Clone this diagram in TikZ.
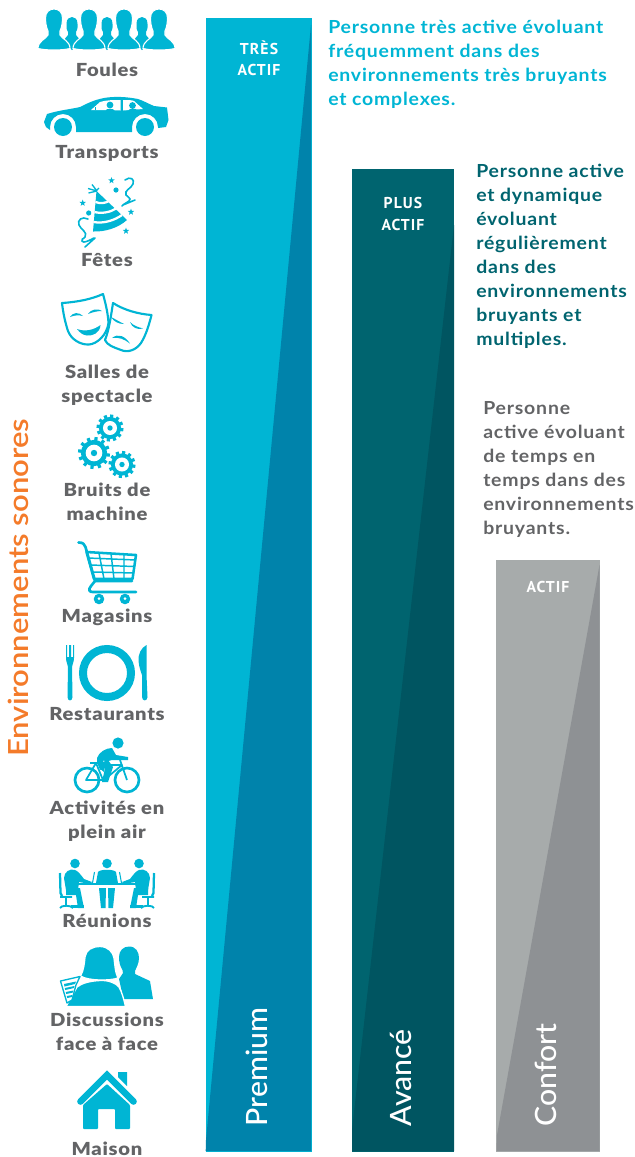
\documentclass[tikz,border=0pt]{standalone}
\usepackage{fontspec}
\setmainfont{Lato}
\newfontfamily\lablat[LetterSpace=4,FakeStretch=1.12]{Lato Black}
\newfontfamily\boldlat[LetterSpace=4.5,FakeStretch=1.08]{Lato Bold}
\newfontfamily\reglat[FakeStretch=1.03]{Lato Medium}
\newfontfamily\titlat[FakeStretch=1.12]{Lato Semibold}
\newfontfamily\din[LetterSpace=7]{PT Sans Bold}
\definecolor{cy}{HTML}{00B5D4}
\definecolor{cyd}{HTML}{0083AB}
\definecolor{te}{HTML}{00646F}
\definecolor{ted}{HTML}{005561}
\definecolor{gr}{HTML}{A7ABAB}
\definecolor{grd}{HTML}{8E9194}
\definecolor{txg}{HTML}{636466}
\definecolor{ora}{HTML}{F47B2A}
\tikzset{
  lab/.style={anchor=base,inner sep=0pt,text=txg,font=\lablat\fontsize{13.5}{16}\selectfont},
  tag/.style={anchor=base,inner sep=0pt,text=white,font=\din\fontsize{11.8}{14}\selectfont},
  para/.style={anchor=north west,inner sep=0pt,align=left,font=\boldlat\fontsize{13.5}{18}\selectfont},
  vert/.style={anchor=base west,rotate=90,inner sep=0pt,text=white,font=\reglat\fontsize{22}{26}\selectfont},
  ic/.style={fill=cy,draw=none},
  wh/.style={fill=white,draw=none},
  bigp/.pic={
    \path[ic,draw=white,line width=0.8pt] (-16,48.5) .. controls (-16,41) and (-8,39) .. (-6,35)
      -- (-6,31) .. controls (-8,27) and (-8.5,21) .. (-8.5,18) .. controls (-8.5,12) and (-4.5,9) .. (0,9)
      .. controls (4.5,9) and (8.5,12) .. (8.5,18) .. controls (8.5,21) and (8,27) .. (6,31) -- (6,35)
      .. controls (8,39) and (16,41) .. (16,48.5) .. controls (8,50.5) and (-8,50.5) .. (-16,48.5) -- cycle;
  },
  smallp/.pic={
    \path[ic] (-9,41) -- (-4,35) -- (-4,32) .. controls (-6,29) and (-5.5,26) .. (-5.5,24)
      .. controls (-5.5,19) and (-3,17) .. (0,17) .. controls (3,17) and (5.5,19) .. (5.5,24)
      .. controls (5.5,26) and (6,29) .. (4,32) -- (4,35) -- (9,41) -- (0,50) -- cycle;
  },
  starp/.pic={
    \path[ic] (-90:3.4) -- (-54:1.4) -- (-18:3.4) -- (18:1.4) -- (54:3.4) -- (90:1.4) -- (126:3.4) -- (162:1.4) -- (198:3.4) -- (234:1.4) -- cycle;
  },
}
\newcommand{\geartool}[3]{%
  \foreach \a in {0,30,...,330}{\draw[cy,line width=2.4pt] (#1,#2) ++(\a+8:#3*0.7) -- ++(\a+8:#3*0.3);}
  \fill[cy] (#1,#2) circle[radius=#3*0.82];
  \fill[white] (#1,#2) circle[radius=#3*0.52];
  \fill[cy] (#1,#2) circle[radius=#3*0.2];
}
\begin{document}
\begin{tikzpicture}[x=0.75pt,y=-0.75pt]
\useasboundingbox (0,0) rectangle (635,1157);
% bars
\fill[cy] (206,17.5) rectangle (311.5,1151.5);
\fill[cyd] (311,25) -- (311,1151) -- (205.7,1151) -- (206,1140) -- cycle;
\fill[te] (352,169) rectangle (454,1151.5);
\fill[ted] (454,225) -- (454,1151) -- (352,1151) -- (352,1130) -- cycle;
\fill[gr] (496,560) rectangle (600,1151.5);
\fill[grd] (599.5,565) -- (599.5,1151) -- (496.5,1151) -- (497,1135) -- cycle;
\node[tag] (t1a) at (259,54) {TRÈS};
\node[tag] (t1b) at (259,75) {ACTIF};
\node[tag] (t2a) at (403,208) {PLUS};
\node[tag] (t2b) at (403,230) {ACTIF};
\node[tag] (t3a) at (548,592) {ACTIF};
\node[vert] (nPremium) at (267,1126.5) {Premium};
\node[vert] (nAvance) at (411,1126.5) {Avancé};
\node[vert] (nConfort) at (556,1126.5) {Confort};
% paragraphs
\node[para,text=cy] (p1) at (328,20) {Personne très active évoluant\\fréquemment dans des\\environnements très bruyants\\et complexes.};
\node[para,text=te] (p2) at (476,164) {Personne active\\et dynamique\\évoluant\\régulièrement\\dans des\\environnements\\bruyants et\\multiples.};
\node[para,text=txg] (p3) at (483,401) {Personne\\active évoluant\\de temps en\\temps dans des\\environnements\\bruyants.};
% side title
\node[anchor=base west,rotate=90,inner sep=0pt,text=ora,font=\titlat\fontsize{20.8}{24}\selectfont] (title) at (28,757) {Environnements sonores};
% labels
\node[lab] (l1) at (107,76) {Foules};
\node[lab] (l2) at (107,158) {Transports};
\node[lab] (l3) at (107,266) {Fêtes};
\node[lab] (l4) at (107,378) {Salles de};
\node[lab] (l4b) at (107,402) {spectacle};
\node[lab] (l5) at (107,496) {Bruits de};
\node[lab] (l5b) at (107,520) {machine};
\node[lab] (l6) at (107,622) {Magasins};
\node[lab] (l7) at (107,720) {Restaurants};
\node[lab] (l8) at (107,814) {Activités en};
\node[lab] (l8b) at (107,838) {plein air};
\node[lab] (l9) at (107,927) {Réunions};
\node[lab] (l10) at (107,1026) {Discussions};
\node[lab] (l10b) at (107,1050) {face à face};
\node[lab] (l11) at (107,1155) {Maison};
% crowd
\foreach \x in {72,107,142} \pic at (\x,0) {smallp};
\foreach \x in {54,89,124,159} \pic at (\x,0) {bigp};
% car
\path[ic] (44,122) -- (47,114) .. controls (60,110) and (72,109) .. (80,107)
  .. controls (88,103) and (94,100) .. (104,98) .. controls (115,96) and (128,97) .. (138,99)
  .. controls (144,101) and (149,104) .. (154,106) -- (167,107.5) -- (168.5,120) -- (166,127) -- (158,128)
  -- (158,127) arc[start angle=0,end angle=-180,radius=13] -- (132,132) -- (76,132) -- (76,127)
  arc[start angle=0,end angle=-180,radius=13] -- (50,130) -- (46,127) -- cycle;
\fill[cy] (63,127) circle[radius=9];
\fill[cy] (145,127) circle[radius=9];
\path[wh] (91,110) -- (100,102) .. controls (106,100) and (114,100) .. (120.5,100) -- (120.5,110.5) -- cycle;
\path[wh] (123,100) .. controls (128,100) and (132,100) .. (134,101) -- (143,109) -- (123,110.5) -- cycle;
\fill[cy] (110,105) circle[radius=3.4];
\path[ic] (105,111) .. controls (106,108) and (114,108) .. (115,111) -- cycle;
\fill[cy] (132.5,105.5) circle[radius=3.4];
\path[ic] (128,111) .. controls (129,108) and (136,108) .. (137,110) -- cycle;
\path[ic] (95,110) -- (95,106.5) -- (96,106.5) -- (96,110) -- cycle;
% party hat
\path[ic] (96.5,191) -- (127,220) .. controls (118,228) and (105,232) .. (93,231.5) -- cycle;
\draw[white,line width=1.7pt] (95.5,202) .. controls (100,204) and (106,203) .. (109,201);
\draw[white,line width=1.7pt] (94.5,212) .. controls (102,214) and (111,212) .. (116,208.5);
\draw[white,line width=1.7pt] (93.5,222) .. controls (104,224) and (115,220) .. (122,215);
\draw[cy,line width=1pt] (97,191) -- (88,188.5) (97,191) -- (88.5,193) (97,191) -- (92,184.5) (97,190) -- (99,188);
\fill[cy] (116,190) circle[radius=2.6];
\fill[cy] (88.7,213) circle[radius=2.6];
\pic at (111.5,180.5) {starp};
\pic at (82.7,203) {starp};
\pic at (131,212) {starp};
\pic at (126,231) {starp};
\draw[cy,line width=1.2pt,line cap=round] (125,180) .. controls (130,176) and (135,179) .. (133,184) .. controls (131,189) and (124,190) .. (126,195) .. controls (127,198) and (130,196) .. (130,199) .. controls (130,202) and (124,203) .. (122,206) (123,205) -- (135,200);
\draw[cy,line width=1.2pt,line cap=round] (88,219) .. controls (82,216) and (77,220) .. (79,225) .. controls (81,230) and (88,232) .. (85,237) .. controls (83,240) and (81,238) .. (82,241) .. controls (83,244) and (90,240) .. (94,238) (85,247) -- (95,238);
% masks
\draw[cy,line width=1.6pt,fill=white,line join=round] (62,303) .. controls (78,302) and (92,299) .. (103,294) .. controls (106,305) and (108,314) .. (108.5,323) .. controls (107,335) and (97,344) .. (89,344.5) .. controls (80,345) and (71,339) .. (68,331) .. controls (65,322) and (63,312) .. (62,303) -- cycle;
\draw[cy,line width=1.6pt,fill=white,line join=round] (113,303) .. controls (124,310) and (138,314) .. (151.5,315) .. controls (149,325) and (146,335) .. (141,343) .. controls (136,350) and (128,353) .. (121,350) .. controls (113,347) and (107,345) .. (105,340) .. controls (109,330) and (111,316) .. (113,303) -- cycle;
\fill[cy] (70,317) .. controls (73,312) and (79,312) .. (83,316) .. controls (79,315) and (75,315) .. (70,317) -- cycle;
\fill[cy] (88,314) .. controls (91,309) and (98,308) .. (102,311) .. controls (98,311) and (93,312) .. (88,314) -- cycle;
\fill[cy] (77,329) .. controls (85,332) and (94,330) .. (100.5,325) .. controls (100,333) and (93,336) .. (87,335.5) .. controls (83,335) and (80,333) .. (77,329) -- cycle;
\fill[cy] (111,317) .. controls (115,319) and (120,322) .. (124,324) .. controls (119,324) and (114,322) .. (111,317) -- cycle;
\fill[cy] (130,322) .. controls (134,326) and (138,327) .. (143,328.5) .. controls (138,330) and (132,328) .. (130,322) -- cycle;
\fill[cy] (112,338) .. controls (118,333) and (125,336) .. (130,343.5) .. controls (124,339) and (119,337) .. (112,338) -- cycle;
% gears
\geartool{110}{428}{13.5}
\geartool{94}{453}{16}
\geartool{122}{464.5}{13.5}
% cart
\draw[cy,line width=2pt,line cap=round,line join=round] (78.5,542.5) .. controls (83,542.5) and (84.5,544) .. (85.5,547) -- (95,581) -- (91,586) .. controls (88,590) and (89,592) .. (93,592) -- (136,592) (95,581) -- (132,581);
\draw[cy,line width=1.9pt,line join=round] (86.5,552) -- (136,555) -- (132.5,579) -- (94,579) -- cycle;
\draw[cy,line width=1.1pt] (99,553) -- (104,579) (111,553.5) -- (114,579) (124,554) -- (124,579)
  (88,558) -- (136,560) (90,565) -- (135,566.5) (92,572) -- (134,573);
\fill[cy] (99,599) circle[radius=5.3];
\fill[cy] (125,599) circle[radius=5.3];
\fill[white] (99,598.5) circle[radius=1.5];
\fill[white] (125,598.5) circle[radius=1.5];
% cutlery
\draw[cy,line width=6pt] (107,673) circle[radius=24];
\path[ic] (66,645) -- (66,658) .. controls (66,663) and (68,664) .. (68,667) -- (67.5,697) .. controls (67.5,701.5) and (72.5,701.5) .. (72.5,697) -- (72,667) .. controls (72,664) and (74,663) .. (74,658) -- (74,645) -- (73,645) -- (73,657) -- (71,657) -- (71,645) -- (69,645) -- (69,657) -- (67,657) -- (67,645) -- cycle;
\path[ic] (146.5,645) .. controls (141,648) and (138,654) .. (138.5,661) .. controls (139,667) and (141,672) .. (142,675) -- (142,697) .. controls (142,701.5) and (147.5,701.5) .. (147.5,697) -- (146.5,675) -- cycle;
% cyclist
\draw[cy,line width=2pt] (87,780) circle[radius=12];
\draw[cy,line width=2pt] (127,780) circle[radius=12];
\fill[cy] (118,743) circle[radius=5.6];
\draw[cy,line width=1.3pt,line join=round] (86,780) -- (96,763) -- (103,780) -- cycle (90,763) -- (99,763) (101,765) -- (122,765) -- (104,780) (120,760) -- (127,780);
\path[ic] (112,748) .. controls (106,748) and (99,752) .. (97,758) .. controls (96,763) and (100,770) .. (104,772) -- (105,765) .. controls (102,763) and (103,760) .. (105,758) -- (109,755) -- cycle;
\path[ic] (112,748) -- (116,755) -- (128,757) -- (128,760) -- (112,760) -- (105,762) -- (103,758) -- cycle;
\path[ic] (98,764) -- (108,760) -- (113,767) -- (108,782) -- (102,782) -- (105,768) -- (100,770) -- cycle;
% meeting
\fill[cy] (107,863.5) circle[radius=4.8];
\path[ic] (98,872) .. controls (100,869) and (114,869) .. (116,872) -- (118,883) -- (96,883) -- cycle;
\path[ic] (99,888) -- (106,888) -- (105.5,908) -- (101,908) -- cycle;
\path[ic] (108,888) -- (115,888) -- (113,908) -- (108.5,908) -- cycle;
\draw[cy,line width=1.9pt] (74,884) -- (139.5,884);
\draw[cy,line width=0.8pt] (94.5,872) -- (92.5,883) (119.5,872) -- (121.5,883);
\foreach \s in {0,1}{
\begin{scope}[shift={(\s*214,0)},xscale=1-2*\s]
\fill[cy] (75,863.5) circle[radius=4.8];
\path[ic] (64,878) .. controls (64,872) and (70,868) .. (75,870) .. controls (78,871) and (81,875) .. (84,879) -- (92,882) -- (90,884) -- (79,882) -- (78,890) -- (66,890) -- cycle;
\path[ic] (66,888) -- (80,888) -- (84,908) -- (78,908) -- (76,895) -- (66,895) -- cycle;
\path[ic] (71,905) -- (84,905) -- (84,908) -- (71,908) -- cycle;
\draw[cy,line width=1.7pt] (60,873) -- (60.5,893) -- (62,896);
\draw[cy,line width=1.4pt] (60,897) -- (72,897) (66,897) -- (66,905) (60,908) .. controls (61,905) and (71,905) .. (73,908);
\end{scope}}
% discussion
\path[ic] (129,946.5) .. controls (136,946.5) and (139,952) .. (139,958) .. controls (139,964) and (136,968) .. (135,971) -- (135,974) -- (150,981) -- (153,999) -- (123.5,999) -- (119,979) -- (123,973) -- (122.5,970) .. controls (120,966) and (119,962) .. (119,957) .. controls (119,951) and (123,946.5) .. (129,946.5) -- cycle;
\path[ic,draw=white,line width=1pt] (80.5,976) .. controls (84,970) and (84.5,962) .. (85,957) .. controls (86,950) and (92,946.5) .. (100,946.5) .. controls (108,946.5) and (113,952) .. (114,958) .. controls (115,965) and (115,972) .. (118,978) .. controls (110,981) and (88,981) .. (80.5,976) -- cycle;
\path[ic,draw=white,line width=1pt] (66,1006.5) -- (77,987) .. controls (82,983) and (90,981) .. (100,980.5) .. controls (108,980) and (116,983) .. (119,987) .. controls (122,992) and (124,1000) .. (125.5,1006.5) -- cycle;
\draw[cy,line width=1pt,fill=white,line join=round] (60.5,981) -- (80,976.5) -- (76,985) -- (72,1000) -- (67,1003) -- cycle;
\fill[cy] (64,984) -- (76,981.5) -- (75,984) -- (64.5,986.5) -- cycle (64.8,988) -- (74.5,986) -- (74,988) -- (65.3,990) -- cycle (65.8,992) -- (73.5,990.5) -- (73,992.5) -- (66.3,994) -- cycle (66.8,996) -- (72.5,995) -- (72,997) -- (67.3,998) -- cycle;
% house
\draw[cy,line width=5pt,miter limit=10,line join=miter,line cap=round] (80.5,1101.5) -- (107,1075) -- (133.5,1101.5);
\path[ic] (118,1072) -- (127,1072) -- (127,1086) -- (118,1077) -- cycle;
\path[ic,rounded corners=0.7pt] (107,1084) -- (130,1105) -- (130,1129) -- (115,1129) -- (115,1109) -- (98,1109) -- (98,1129) -- (83,1129) -- (83,1105) -- cycle;
\end{tikzpicture}
\end{document}
